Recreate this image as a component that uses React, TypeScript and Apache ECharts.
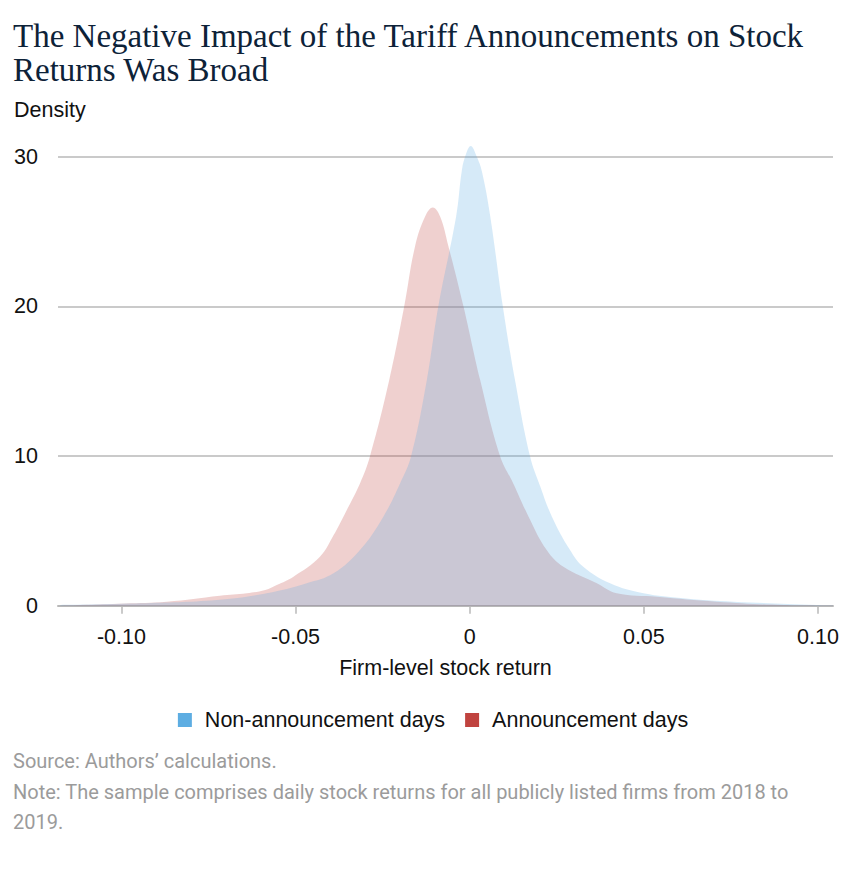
import React, { useEffect, useRef } from "react";
import * as echarts from "echarts";

const TITLE_LINES = ["The Negative Impact of the Tariff Announcements on Stock", "Returns Was Broad"];
const Y_NAME = "Density";
const X_NAME = "Firm-level stock return";
const SOURCE_LINES = [
  "Source: Authors\u2019 calculations.",
  "Note: The sample comprises daily stock returns for all publicly listed firms from 2018 to",
  "2019.",
];

const SERIES_NAMES = ["Non-announcement days", "Announcement days"];
const X_TICKS = [-0.1, -0.05, 0, 0.05, 0.1];
const Y_TICKS = [0, 10, 20, 30];

// Announcement days (red)
const redX = [-0.1175, -0.1118, -0.099, -0.087, -0.0717, -0.064, -0.0587, -0.0554, -0.0506, -0.043, -0.0391, -0.0355, -0.0315, -0.0286, -0.0231, -0.0188, -0.0157, -0.0128, -0.0106, -0.0085, -0.0061, -0.0018, 0.003, 0.0087, 0.0125, 0.0169, 0.0221, 0.0269, 0.0365, 0.0422, 0.0537, 0.0709, 0.09, 0.1043];
const redY = [0.02, 0.05, 0.15, 0.27, 0.67, 0.83, 1.05, 1.38, 1.94, 3.27, 4.7, 6.3, 8.17, 10, 15.07, 20, 24, 26, 26.6, 26, 24, 20, 15.07, 10, 8.17, 5.95, 3.72, 2.6, 1.5, 0.83, 0.6, 0.27, 0.05, 0.02];

// Non-announcement days (blue)
const blueX = [-0.1175, -0.0946, -0.0726, -0.0583, -0.0468, -0.0391, -0.0315, -0.0248, -0.02, -0.0168, -0.0123, -0.009, -0.0039, -0.0023, -0.0013, 0.0003, 0.002, 0.0035, 0.0059, 0.0095, 0.013, 0.0173, 0.0202, 0.0236, 0.0288, 0.0326, 0.0403, 0.0499, 0.0614, 0.0757, 0.0997, 0.1043];
const blueY = [0.05, 0.16, 0.38, 0.83, 1.5, 2.16, 3.72, 5.95, 8.17, 10, 15.07, 20, 26, 29, 30, 30.7, 30, 29, 26, 20, 15.07, 10, 8.0, 5.95, 3.72, 2.6, 1.5, 0.83, 0.5, 0.27, 0.05, 0.03];

const X_MIN = -0.1182;
const X_MAX = 0.1043;

const BLUE = "#5dade2";
const RED = "#c0433f";

export default function App() {
  const ref = useRef<HTMLDivElement>(null);
  useEffect(() => {
    document.body.style.margin = "0";
    if (!ref.current) return;
    const chart = echarts.init(ref.current, null, { renderer: "svg" });
    const sans = "'Liberation Sans', Arial, sans-serif";
    const axisGray = "#b8b8b8";
    const fs = 21.5;
    chart.setOption({
      animation: false,
      backgroundColor: "#ffffff",
      grid: { left: 58, right: 33, top: 156.6, bottom: 264.3 },
      legend: {
        data: SERIES_NAMES,
        top: 704,
        left: "center",
        icon: "rect",
        itemWidth: 14,
        itemHeight: 14,
        itemGap: 20,
        textStyle: { fontFamily: sans, fontSize: fs, color: "#111", padding: [0, 0, 0, 8] },
      },
      graphic: [
        {
          type: "text",
          left: 13,
          top: 19,
          style: {
            text: TITLE_LINES.join("\n"),
            fontFamily: "'Liberation Serif', 'DejaVu Serif', serif",
            fontSize: 33,
            lineHeight: 34,
            fill: "#0d2238",
          },
        },
        {
          type: "text",
          left: 14,
          top: 99,
          style: { text: Y_NAME, fontFamily: sans, fontSize: fs, fill: "#111" },
        },
        {
          type: "text",
          left: 13,
          top: 746,
          style: {
            text: SOURCE_LINES.join("\n"),
            fontFamily: "Roboto, sans-serif",
            fontSize: 20,
            lineHeight: 30.5,
            fill: "#9b9b9b",
          },
        },
      ],
      xAxis: {
        type: "value",
        min: X_MIN,
        max: X_MAX,
        name: X_NAME,
        nameLocation: "middle",
        nameGap: 51,
        nameTextStyle: { fontFamily: sans, fontSize: fs, color: "#111" },
        axisLine: { show: true, lineStyle: { color: axisGray, width: 2 } },
        axisTick: { show: true, customValues: X_TICKS, length: 8, lineStyle: { color: axisGray, width: 1.5 } },
        axisLabel: {
          customValues: X_TICKS,
          margin: 20,
          fontFamily: sans,
          fontSize: fs,
          color: "#111",
          formatter: (v: number) => (Math.abs(v) < 1e-9 ? "0" : v.toFixed(2)),
        },
        splitLine: { show: false },
      },
      yAxis: {
        type: "value",
        min: 0,
        max: 30,
        interval: 10,
        axisLine: { show: false },
        axisTick: { show: false },
        axisLabel: {
          customValues: Y_TICKS,
          margin: 20,
          fontFamily: sans,
          fontSize: fs,
          color: "#111",
        },
        splitLine: { show: true, lineStyle: { color: axisGray, width: 1.5 } },
      },
      series: [
        {
          name: SERIES_NAMES[1],
          type: "line",
          data: redX.map((x, i) => [x, redY[i]]),
          smooth: 0.4,
          symbol: "none",
          clip: false,
          color: RED,
          lineStyle: { width: 0 },
          areaStyle: { color: RED, opacity: 0.25 },
        },
        {
          name: SERIES_NAMES[0],
          type: "line",
          data: blueX.map((x, i) => [x, blueY[i]]),
          smooth: 0.4,
          symbol: "none",
          clip: false,
          color: BLUE,
          lineStyle: { width: 0 },
          areaStyle: { color: BLUE, opacity: 0.25 },
        },
      ],
    });
    return () => chart.dispose();
  }, []);
  return <div ref={ref} style={{ width: 866, height: 870 }} />;
}
